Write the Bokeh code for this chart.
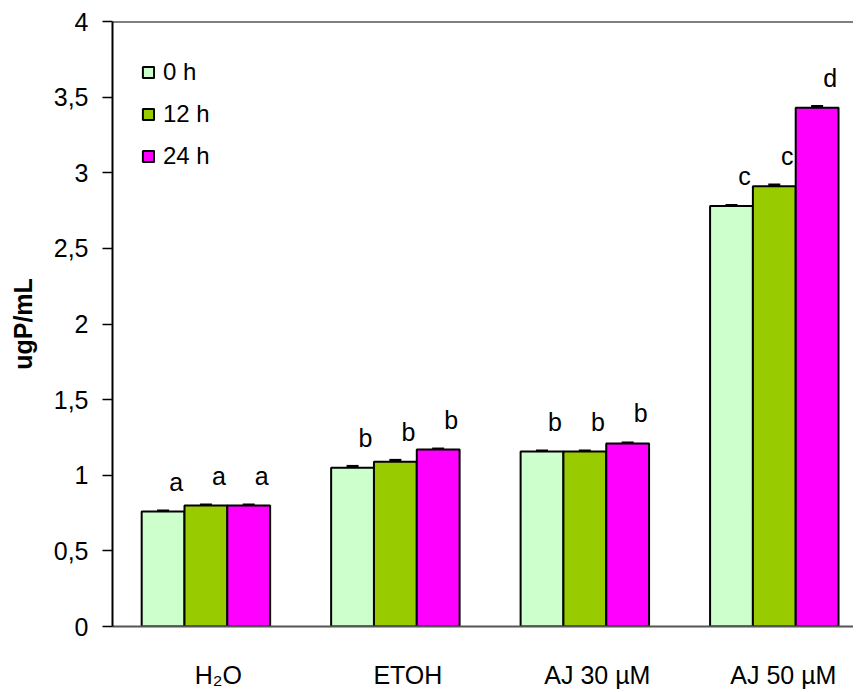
import numpy as np
from bokeh.plotting import figure
from bokeh.models import (Range1d, ColumnDataSource, FixedTicker, Whisker, TeeHead, Span)
from bokeh.core.properties import value
from bokeh.embed import file_html
from bokeh.resources import INLINE

# ---- data ----
categories = ["H\u2082O", "ETOH", "AJ 30 \u00b5M", "AJ  50 \u00b5M"]
series = ["0 h", "12 h", "24 h"]
v0 = [0.76, 1.05, 1.157, 2.78]
v12 = [0.80, 1.09, 1.157, 2.91]
v24 = [0.80, 1.17, 1.21, 3.43]
e0 = [0.005, 0.010, 0.005, 0.005]
e12 = [0.005, 0.010, 0.005, 0.010]
e24 = [0.005, 0.005, 0.005, 0.010]
l0 = ["a", "b", "b", "c"]
l12 = ["a", "b", "b", "c"]
l24 = ["a", "b", "b", "d"]
y_ticks = [0, 0.5, 1, 1.5, 2, 2.5, 3, 3.5, 4]
y_tick_labels = ["0", "0,5", "1", "1,5", "2", "2,5", "3", "3,5", "4"]

colors = ["#CCFFCC", "#99CC00", "#FF00FF"]
FONT = "Liberation Sans"

p = figure(width=853, height=691, x_range=Range1d(-0.559, 3.352), y_range=Range1d(0, 4),
           output_backend="svg", toolbar_location=None,
           min_border_left=112, min_border_right=0, min_border_top=21, min_border_bottom=65)
p.outline_line_color = None
p.grid.visible = False
p.background_fill_color = "white"

idx = np.arange(len(categories))
dodges = [-0.292, -0.066, 0.160]
width = 0.226
for vals, errs, lets, name, col, d in zip([v0, v12, v24], [e0, e12, e24], [l0, l12, l24],
                                          series, colors, dodges):
    vals = np.array(vals)
    errs = np.array(errs)
    src = ColumnDataSource(dict(x=idx + d, top=vals, upper=vals + errs, lower=vals - errs,
                                lab=lets))
    p.vbar(x="x", top="top", width=width, source=src, fill_color=col,
           line_color="black", line_width=2, legend_label=name)
    w = Whisker(base="x", upper="upper", lower="lower", source=src, line_color="black",
                line_width=1.5,
                upper_head=TeeHead(size=12, line_width=2.5, line_color="black"),
                lower_head=TeeHead(size=12, line_width=2.5, line_color="black"))
    p.add_layout(w)
    p.text(x="x", y="top", text="lab", source=src, x_offset=13, y_offset=-30,
           text_align="center", text_baseline="middle", text_font=value(FONT),
           text_font_size="25px", text_color="black")

# top border
p.add_layout(Span(location=4, dimension="width", line_color="black", line_width=2))

# y axis
yax = p.yaxis[0]
yax.ticker = FixedTicker(ticks=y_ticks)
yax.major_label_overrides = {t: s for t, s in zip(y_ticks, y_tick_labels)}
yax.minor_tick_line_color = None
yax.major_tick_in = 0
yax.major_tick_out = 10
yax.major_tick_line_width = 1.5
yax.major_tick_line_color = "black"
yax.axis_line_width = 2
yax.axis_line_color = "black"
yax.major_label_standoff = 14
yax.major_label_text_font = FONT
yax.major_label_text_font_size = "25px"
yax.major_label_text_color = "black"
yax.axis_label = "ugP/mL"
yax.axis_label_text_font = FONT
yax.axis_label_text_font_style = "bold"
yax.axis_label_text_font_size = "25px"
yax.axis_label_text_color = "black"
yax.axis_label_standoff = 14

# x axis
xax = p.xaxis[0]
xax.ticker = FixedTicker(ticks=list(idx))
xax.major_label_overrides = {int(i): c for i, c in zip(idx, categories)}
xax.major_tick_line_color = None
xax.major_tick_out = 0
xax.major_tick_in = 0
xax.minor_tick_line_color = None
xax.axis_line_color = "#555555"
xax.axis_line_width = 2
xax.major_label_standoff = 34
xax.major_label_text_font = FONT
xax.major_label_text_font_size = "25px"
xax.major_label_text_color = "black"

# legend
lg = p.legend[0]
lg.location = (29, 455)
lg.margin = 0
lg.padding = 0
lg.border_line_color = None
lg.background_fill_alpha = 0
lg.glyph_width = 14
lg.glyph_height = 14
lg.label_height = 30
lg.spacing = 12
lg.label_standoff = 8
lg.label_text_font = FONT
lg.label_text_font_size = "24px"
lg.label_text_color = "black"

open("out.html", "w").write(file_html(p, INLINE))
